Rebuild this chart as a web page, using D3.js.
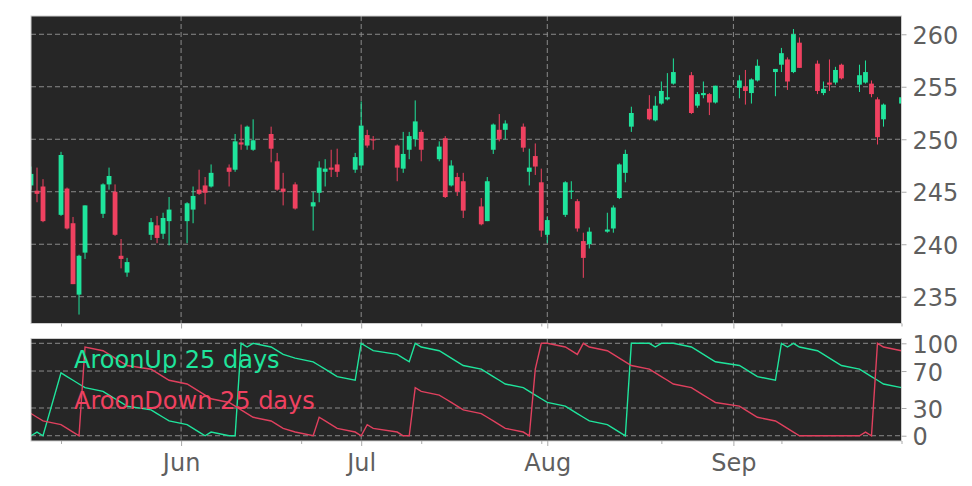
<!DOCTYPE html>
<html><head><meta charset="utf-8">
<script src="https://cdn.jsdelivr.net/npm/d3@7"></script>
<style>body{margin:0;background:#fff}svg{display:block}</style>
</head><body>
<svg id="c" width="972" height="486"></svg>
<script>
const dates = ["2025-05-07","2025-05-08","2025-05-09","2025-05-12","2025-05-13","2025-05-14","2025-05-15","2025-05-16","2025-05-19","2025-05-20","2025-05-21","2025-05-22","2025-05-23","2025-05-27","2025-05-28","2025-05-29","2025-05-30","2025-06-02","2025-06-03","2025-06-04","2025-06-05","2025-06-06","2025-06-09","2025-06-10","2025-06-11","2025-06-12","2025-06-13","2025-06-16","2025-06-17","2025-06-18","2025-06-20","2025-06-23","2025-06-24","2025-06-25","2025-06-26","2025-06-27","2025-06-30","2025-07-01","2025-07-02","2025-07-03","2025-07-07","2025-07-08","2025-07-09","2025-07-10","2025-07-11","2025-07-14","2025-07-15","2025-07-16","2025-07-17","2025-07-18","2025-07-21","2025-07-22","2025-07-23","2025-07-24","2025-07-25","2025-07-28","2025-07-29","2025-07-30","2025-07-31","2025-08-01","2025-08-04","2025-08-05","2025-08-06","2025-08-07","2025-08-08","2025-08-11","2025-08-12","2025-08-13","2025-08-14","2025-08-15","2025-08-18","2025-08-19","2025-08-20","2025-08-21","2025-08-22","2025-08-25","2025-08-26","2025-08-27","2025-08-28","2025-08-29","2025-09-02","2025-09-03","2025-09-04","2025-09-05","2025-09-08","2025-09-09","2025-09-10","2025-09-11","2025-09-12","2025-09-15","2025-09-16","2025-09-17","2025-09-18","2025-09-19","2025-09-22","2025-09-23","2025-09-24","2025-09-25","2025-09-26","2025-09-29"];
const opens = [245.6,245.1,245.5,242.8,245.3,242.0,235.2,239.2,242.9,245.7,245.0,238.9,237.3,240.9,241.8,241.0,242.2,242.2,243.3,245.2,245.6,245.5,247.3,247.1,249.7,249.4,249.0,250.5,247.9,245.3,245.7,243.6,244.9,246.9,247.3,247.6,247.1,247.5,250.4,250.0,249.4,247.2,249.0,250.0,250.7,248.1,250.1,245.6,246.4,246.0,243.6,242.2,249.0,250.9,250.9,251.2,246.9,248.4,245.9,240.9,242.8,245.0,244.1,240.3,240.0,241.2,241.5,244.4,246.8,251.2,252.9,251.8,253.4,253.8,255.3,256.1,253.2,254.2,254.3,253.5,254.9,255.0,254.4,255.6,256.4,257.1,257.6,256.4,259.2,257.2,254.4,255.4,255.4,257.1,255.2,255.4,255.3,253.8,251.9,253.4];
const highs = [247.4,247.3,246.2,248.8,245.4,242.6,239.0,243.7,245.8,247.3,245.7,240.5,238.7,242.5,242.7,243.0,244.5,244.0,245.5,247.1,246.4,247.6,247.6,250.5,251.4,251.3,251.9,251.2,248.7,246.8,245.9,245.0,247.9,248.1,249.0,249.1,248.7,253.6,250.9,250.3,249.5,250.7,250.7,253.7,250.9,249.8,250.3,248.0,246.8,246.8,244.4,246.4,251.5,252.4,251.8,251.5,249.1,249.6,247.2,242.6,246.0,246.0,244.3,241.1,241.6,243.0,243.7,247.7,249.0,253.1,254.2,254.1,255.5,256.3,257.7,256.4,254.5,255.5,254.4,255.1,256.1,256.6,255.8,257.6,256.7,258.7,257.8,260.5,259.7,257.5,255.5,257.6,256.9,257.2,257.1,257.5,255.6,254.0,253.4,254.2];
const lows = [245.2,244.0,242.1,242.7,241.4,236.2,233.3,238.6,242.5,245.2,240.8,237.7,236.9,240.4,240.1,240.5,239.9,240.1,242.0,244.7,243.8,245.4,245.5,246.9,249.0,249.0,248.9,247.8,245.1,243.7,243.3,241.3,244.0,245.5,246.4,246.4,246.8,247.2,249.2,249.0,246.0,246.8,248.1,249.3,247.9,247.9,244.4,245.5,244.6,242.5,241.8,242.2,248.6,249.8,250.0,248.8,245.6,246.6,240.7,240.1,242.6,244.3,241.2,236.8,239.6,241.1,241.1,244.3,245.9,250.7,251.8,251.7,253.3,253.7,255.2,252.4,253.0,253.9,252.3,253.4,253.9,253.3,253.4,255.5,254.1,256.4,254.7,256.3,256.8,254.3,254.2,254.6,255.2,255.7,254.5,255.3,254.0,249.5,251.2,252.0];
const closes = [246.7,244.8,242.2,248.5,241.5,236.2,238.9,243.7,245.7,246.5,240.9,238.6,238.3,242.1,240.6,242.5,243.3,243.9,244.6,244.8,244.9,246.8,246.9,249.8,249.5,251.2,249.9,249.1,245.2,245.0,243.4,244.0,247.3,247.2,247.1,246.9,248.3,251.3,249.4,249.9,247.3,248.6,250.3,251.7,249.0,249.3,244.5,247.5,245.0,243.2,241.9,246.0,251.4,250.0,251.5,249.2,247.3,247.4,241.3,242.3,245.9,245.1,241.5,238.7,241.2,241.4,243.5,247.6,248.6,252.5,251.9,253.2,254.6,254.0,256.4,252.5,254.3,254.4,253.5,255.1,255.6,254.6,255.7,257.0,256.7,258.2,255.5,260.0,256.8,254.6,254.8,255.2,256.6,255.8,256.1,256.4,254.3,250.2,253.3,254.0];
const aroonUp = [0,4,0,68,64,60,56,52,48,44,40,36,32,28,24,20,16,12,8,4,0,4,0,0,100,96,100,96,92,88,84,80,76,72,68,64,60,100,96,92,88,84,80,100,96,92,88,84,80,76,72,68,64,60,56,52,48,44,40,36,32,28,24,20,16,12,8,4,0,100,100,96,100,100,100,96,92,88,84,80,76,72,68,64,60,100,96,100,96,92,88,84,80,76,72,68,64,60,56,52];
const aroonDown = [24,20,16,12,8,4,0,96,92,88,84,80,76,72,68,64,60,56,52,48,44,40,36,32,28,24,20,16,12,8,4,0,20,16,12,8,4,0,12,8,4,0,0,52,48,44,40,36,32,28,24,20,16,12,8,4,0,72,100,100,96,92,88,100,96,92,88,84,80,76,72,68,64,60,56,52,48,44,40,36,32,28,24,20,16,12,8,4,0,0,0,0,0,0,0,4,0,100,96,92];
const priceTicks = [235,240,245,250,255,260];
const aroonTicks = [0,30,70,100];
const monthTicks = ["2025-06-01","2025-07-01","2025-08-01","2025-09-01"];
const monthLabels = ["Jun","Jul","Aug","Sep"];
const minorTicks = ["2025-05-12","2025-06-21","2025-07-11","2025-07-31","2025-08-20","2025-09-09","2025-09-29"];
const legendLabels = ["AroonUp 25 days","AroonDown 25 days"];

const UP = "#1fe49c", DOWN = "#ef4160", BG = "#262626", GRID = "#8a8a8a", TXT = "#5f5f5f";
const FS = 24;
const parse = d3.utcParse("%Y-%m-%d");
const data = dates.map((d,i)=>({d:parse(d),o:opens[i],h:highs[i],l:lows[i],c:closes[i],up:aroonUp[i],dn:aroonDown[i]}));

const L = 31, R = 901.5;
const x = d3.scaleUtc().domain([parse("2025-05-07"), parse("2025-09-29")]).range([L, R]);
const y = d3.scaleLinear().domain([232.45, 261.74]).range([323.5, 16]);
const y2 = d3.scaleLinear().domain([-5.7, 105.2]).range([441, 338.5]);

const svg = d3.select("#c");
svg.append("rect").attr("width",972).attr("height",486).attr("fill","#fff");
const defs = svg.append("defs");
defs.append("clipPath").attr("id","cp1").append("rect").attr("x",L).attr("y",16).attr("width",R-L).attr("height",323.5-16);
defs.append("clipPath").attr("id","cp2").append("rect").attr("x",L).attr("y",338.5).attr("width",R-L).attr("height",441-338.5);

function panel(top, bottom, ys, ticks, clip) {
  svg.append("rect").attr("x",L).attr("y",top).attr("width",R-L).attr("height",bottom-top).attr("fill",BG);
  const g = svg.append("g").attr("clip-path",`url(#${clip})`);
  g.selectAll(".hg").data(ticks).join("line")
    .attr("x1",L).attr("x2",R).attr("y1",d=>ys(d)).attr("y2",d=>ys(d))
    .attr("stroke",GRID).attr("stroke-width",1).attr("stroke-dasharray","5,3");
  g.selectAll(".vg").data(monthTicks.map(parse)).join("line")
    .attr("x1",d=>x(d)).attr("x2",d=>x(d)).attr("y1",top).attr("y2",bottom)
    .attr("stroke",GRID).attr("stroke-width",1).attr("stroke-dasharray","5,3");
  return g;
}

const g1 = panel(16, 323.5, y, priceTicks, "cp1");
const bw = 4.8;
const cg = g1.selectAll(".cd").data(data).join("g");
cg.append("line").attr("x1",d=>x(d.d)).attr("x2",d=>x(d.d)).attr("y1",d=>y(d.h)).attr("y2",d=>y(d.l))
  .attr("stroke",d=>d.c>=d.o?UP:DOWN).attr("stroke-width",1);
cg.append("rect").attr("x",d=>x(d.d)-bw/2).attr("width",bw)
  .attr("y",d=>y(Math.max(d.o,d.c))).attr("height",d=>Math.max(1.2,Math.abs(y(d.o)-y(d.c))))
  .attr("fill",d=>d.c>=d.o?UP:DOWN);

const g2 = panel(338.5, 441, y2, aroonTicks, "cp2");
g2.append("path").datum(data).attr("fill","none").attr("stroke",UP).attr("stroke-width",1.4)
  .attr("d",d3.line().x(d=>x(d.d)).y(d=>y2(d.up)));
g2.append("path").datum(data).attr("fill","none").attr("stroke","#e0405e").attr("stroke-width",1.4)
  .attr("d",d3.line().x(d=>x(d.d)).y(d=>y2(d.dn)));

// legend
svg.append("text").attr("x",74).attr("y",368).text(legendLabels[0])
  .attr("fill",UP).attr("font-family","DejaVu Sans").attr("font-size",FS);
svg.append("text").attr("x",74).attr("y",409).text(legendLabels[1])
  .attr("fill",DOWN).attr("font-family","DejaVu Sans").attr("font-size",FS);

// borders
[[16,323.5],[338.5,441]].forEach(([t,b])=>{
  svg.append("rect").attr("x",L).attr("y",t).attr("width",R-L).attr("height",b-t)
    .attr("fill","none").attr("stroke","#cfcfcf").attr("stroke-width",1);
});

// right axes
function rightAxis(ys, ticks) {
  const a = svg.append("g").attr("transform",`translate(${R},0)`)
    .call(d3.axisRight(ys).tickValues(ticks).tickSize(5).tickPadding(6).tickFormat(d3.format("d")));
  a.select(".domain").remove();
  a.selectAll("line").attr("stroke","#aaaaaa");
  a.selectAll("text").attr("fill",TXT).attr("font-family","DejaVu Sans").attr("font-size",FS).attr("dy","0.38em");
}
rightAxis(y, priceTicks);
rightAxis(y2, aroonTicks);

// bottom ticks
function bottomTicks(yb, labels) {
  const a = svg.append("g").attr("transform",`translate(0,${yb})`)
    .call(d3.axisBottom(x).tickValues(monthTicks.map(parse)).tickSize(5).tickPadding(8)
      .tickFormat((d,i)=>labels?monthLabels[i]:""));
  a.select(".domain").remove();
  a.selectAll("line").attr("stroke","#aaaaaa");
  a.selectAll("text").attr("fill",TXT).attr("font-family","DejaVu Sans").attr("font-size",FS);
  const m = svg.append("g").attr("transform",`translate(0,${yb})`)
    .call(d3.axisBottom(x).tickValues(minorTicks.map(parse)).tickSize(3).tickFormat(""));
  m.select(".domain").remove();
  m.selectAll("line").attr("stroke","#aaaaaa");
}
bottomTicks(323.5, false);
bottomTicks(441, true);
</script>
</body></html>
